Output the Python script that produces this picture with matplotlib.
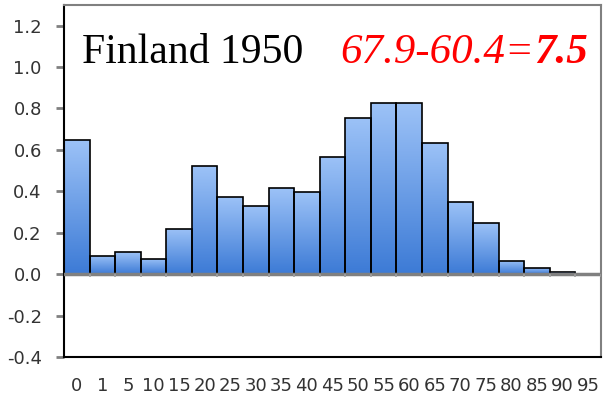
import numpy as np
import matplotlib
matplotlib.use('Agg')
from matplotlib import pyplot as plt
from matplotlib.colors import LinearSegmentedColormap

# 年龄组与数值
ages = ['0', '1', '5', '10', '15', '20', '25', '30', '35', '40', '45',
        '50', '55', '60', '65', '70', '75', '80', '85', '90', '95']
values = [0.65, 0.09, 0.105, 0.075, 0.22, 0.52, 0.375, 0.33, 0.415, 0.395, 0.565,
          0.755, 0.825, 0.825, 0.635, 0.35, 0.245, 0.065, 0.03, 0.01, 0.0]
yticks = [-0.4, -0.2, 0.0, 0.2, 0.4, 0.6, 0.8, 1.0, 1.2]
title_left = 'Finland 1950'
title_right = '67.9-60.4='
title_value = '7.5'

fig = plt.figure(figsize=(6.04, 4.04), dpi=100)
ax = fig.add_axes([0.106, 0.116, 0.889, 0.872])

x = np.arange(len(ages))
bars = ax.bar(x, values, width=1.0, color='none', edgecolor='black', linewidth=1.2, zorder=3)

# 渐变填充
cmap = LinearSegmentedColormap.from_list('blu', ['#3d7bd6', '#9cc2f7'])
grad = np.linspace(0, 1, 100).reshape(-1, 1)
for b in bars:
    h = b.get_height()
    if h <= 0:
        continue
    x0 = b.get_x()
    im = ax.imshow(grad, cmap=cmap, origin='lower', aspect='auto',
                   extent=[x0, x0 + b.get_width(), 0, h], zorder=2)
    im.set_clip_path(b)

ax.set_xlim(-0.5, len(ages) - 0.5)
ax.set_ylim(-0.4, 1.3)

# 零线及刻度
ax.axhline(0, color='#808080', lw=2.5, zorder=4)
ax.vlines(x + 0.5, -0.012, 0, color='#a0a0a0', lw=1.2, zorder=4)

ax.set_yticks(yticks)
ax.set_yticklabels([f'{v:.1f}' for v in yticks])
ax.set_xticks(x)
ax.set_xticklabels(ages)
ax.tick_params(axis='y', direction='out', length=6, width=2, color='#808080',
               labelsize=13, labelcolor='#333333', pad=10)
ax.tick_params(axis='x', length=0, labelsize=13, labelcolor='#333333', pad=14)

for s in ['left', 'bottom']:
    ax.spines[s].set_color('black')
    ax.spines[s].set_linewidth(1.5)
for s in ['top', 'right']:
    ax.spines[s].set_color('#808080')
    ax.spines[s].set_linewidth(1.5)

ax.text(0.2, 1.02, title_left, fontsize=30, family='Liberation Serif',
        color='black', va='baseline', ha='left', zorder=5)
t = ax.text(10.29, 1.02, title_right, fontsize=31, family='Liberation Serif',
            style='italic', color='red', va='baseline', ha='left', zorder=5)
ax.annotate(title_value, xy=(1, 0), xycoords=t, va='bottom', ha='left',
            fontsize=31, family='Liberation Serif', style='italic', weight='bold',
            color='red', zorder=5)

plt.savefig('out.png', dpi=100)
